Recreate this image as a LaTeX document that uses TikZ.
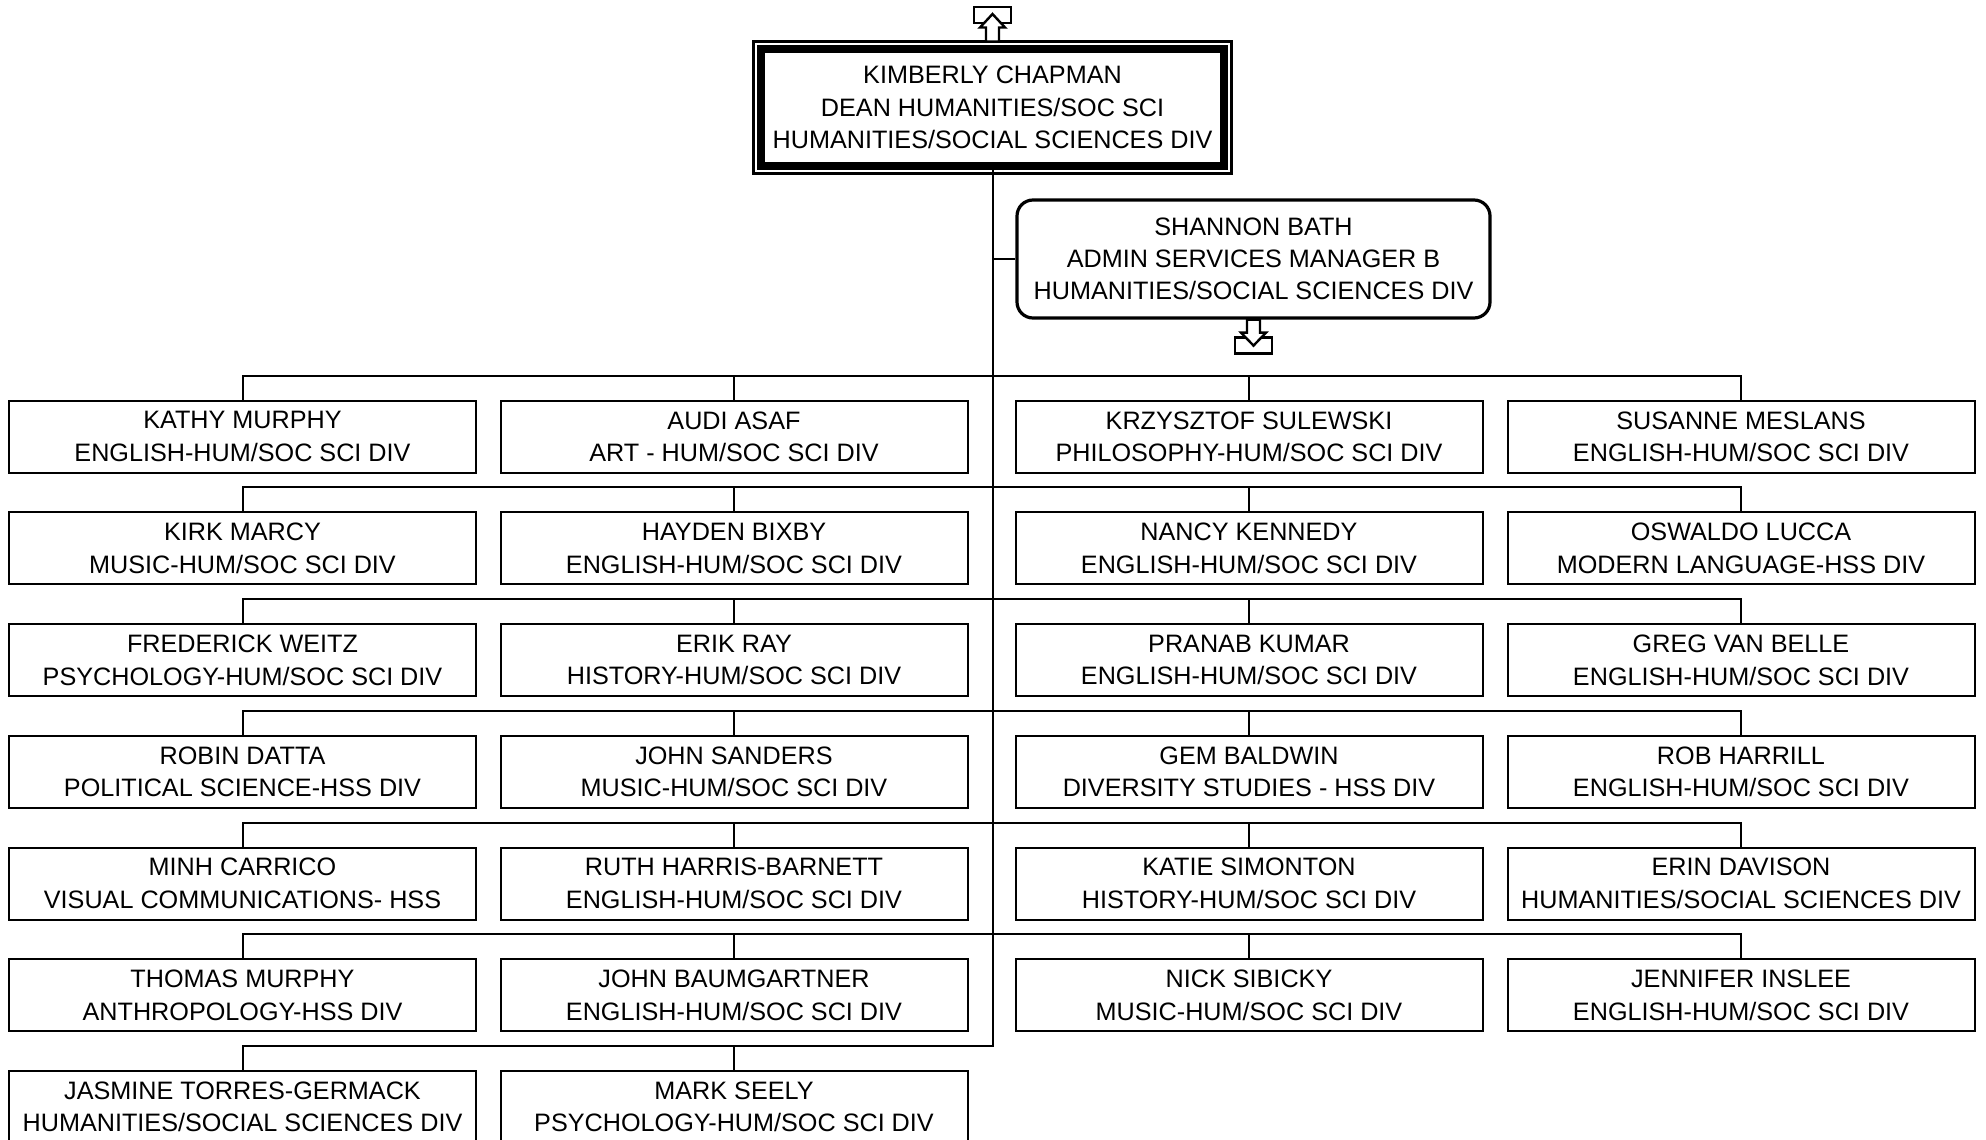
\documentclass[tikz,border=0pt]{standalone}
\usepackage{fontspec}
\setmainfont{Liberation Sans}
\usetikzlibrary{positioning}

\begin{document}
\begin{tikzpicture}[
    x=0.5pt, y=-0.5pt,
    staff/.style={
      rectangle, draw, line width=1pt,
      minimum width=233.5pt, minimum height=36pt,
      font=\fontsize{12.6}{16.3}\selectfont, align=center, inner sep=0pt
    },
    head/.style={
      rectangle, draw, line width=4pt, outer sep=0pt,
      minimum width=231.5pt, minimum height=58.5pt,
      font=\fontsize{12.6}{16.2}\selectfont, align=center, inner sep=0pt
    },
    assist/.style={
      rectangle, draw, rounded corners=8pt, line width=1.6pt,
      minimum width=236.5pt, minimum height=59pt,
      font=\fontsize{12.6}{16}\selectfont, align=center, inner sep=0pt
    },
    link/.style={line width=1pt},
    marker/.style={draw, line width=1.2pt, fill=white},
  ]
  \useasboundingbox (0,0) rectangle (1986,1140);

  \node[head] (dean) at (992.5,107.5) {
    KIMBERLY CHAPMAN\\
    DEAN HUMANITIES/SOC SCI\\
    HUMANITIES/SOCIAL SCIENCES DIV
  };
  \draw[line width=1.5pt] ([shift={(-3.75pt,3.75pt)}]dean.north west)
    rectangle ([shift={(3.75pt,-3.75pt)}]dean.south east);

  \node[assist] (shannon) at (1253.5,259) {
    SHANNON BATH\\
    ADMIN SERVICES MANAGER B\\
    HUMANITIES/SOCIAL SCIENCES DIV
  };

  % first row
  \node[staff] (kathy) at (242.5,436.7) {KATHY MURPHY\\ENGLISH-HUM/SOC SCI DIV};
  \node[staff, right=11.25pt of kathy] (audi) {AUDI ASAF\\ART - HUM/SOC SCI DIV};
  \node[staff, right=23pt of audi] (krzysztof) {KRZYSZTOF SULEWSKI\\PHILOSOPHY-HUM/SOC SCI DIV};
  \node[staff, right=11.5pt of krzysztof] (susanne) {SUSANNE MESLANS\\ENGLISH-HUM/SOC SCI DIV};

  \node[staff, below=18.85pt of kathy] (kirk) {KIRK MARCY\\MUSIC-HUM/SOC SCI DIV};
  \node[staff, below=18.85pt of audi] (hayden) {HAYDEN BIXBY\\ENGLISH-HUM/SOC SCI DIV};
  \node[staff, below=18.85pt of krzysztof] (nancy) {NANCY KENNEDY\\ENGLISH-HUM/SOC SCI DIV};
  \node[staff, below=18.85pt of susanne] (oswaldo) {OSWALDO LUCCA\\MODERN LANGUAGE-HSS DIV};

  \node[staff, below=18.85pt of kirk] (frederick) {FREDERICK WEITZ\\PSYCHOLOGY-HUM/SOC SCI DIV};
  \node[staff, below=18.85pt of hayden] (erik) {ERIK RAY\\HISTORY-HUM/SOC SCI DIV};
  \node[staff, below=18.85pt of nancy] (pranab) {PRANAB KUMAR\\ENGLISH-HUM/SOC SCI DIV};
  \node[staff, below=18.85pt of oswaldo] (greg) {GREG VAN BELLE\\ENGLISH-HUM/SOC SCI DIV};

  \node[staff, below=18.85pt of frederick] (robin) {ROBIN DATTA\\POLITICAL SCIENCE-HSS DIV};
  \node[staff, below=18.85pt of erik] (johns) {JOHN SANDERS\\MUSIC-HUM/SOC SCI DIV};
  \node[staff, below=18.85pt of pranab] (gem) {GEM BALDWIN\\DIVERSITY STUDIES - HSS DIV};
  \node[staff, below=18.85pt of greg] (rob) {ROB HARRILL\\ENGLISH-HUM/SOC SCI DIV};

  \node[staff, below=18.85pt of robin] (minh) {MINH CARRICO\\VISUAL COMMUNICATIONS- HSS};
  \node[staff, below=18.85pt of johns] (ruth) {RUTH HARRIS-BARNETT\\ENGLISH-HUM/SOC SCI DIV};
  \node[staff, below=18.85pt of gem] (katie) {KATIE SIMONTON\\HISTORY-HUM/SOC SCI DIV};
  \node[staff, below=18.85pt of rob] (erin) {ERIN DAVISON\\HUMANITIES/SOCIAL SCIENCES DIV};

  \node[staff, below=18.85pt of minh] (thomas) {THOMAS MURPHY\\ANTHROPOLOGY-HSS DIV};
  \node[staff, below=18.85pt of ruth] (johnb) {JOHN BAUMGARTNER\\ENGLISH-HUM/SOC SCI DIV};
  \node[staff, below=18.85pt of katie] (nick) {NICK SIBICKY\\MUSIC-HUM/SOC SCI DIV};
  \node[staff, below=18.85pt of erin] (jennifer) {JENNIFER INSLEE\\ENGLISH-HUM/SOC SCI DIV};

  \node[staff, below=18.85pt of thomas] (jasmine) {JASMINE TORRES-GERMACK\\HUMANITIES/SOCIAL SCIENCES DIV};
  \node[staff, below=18.85pt of johnb] (mark) {MARK SEELY\\PSYCHOLOGY-HUM/SOC SCI DIV};

  % trunk and buses
  \draw[link] (jasmine.north) -- ++(0,12pt) -| (dean.south) (mark.north) -- ++(0,12pt);
  \draw[link] (dean.south |- shannon.west) -- (shannon.west);
  \draw[link] (kathy.north) -- ++(0,12pt) -| (susanne.north) (audi.north) -- ++(0,12pt) (krzysztof.north) -- ++(0,12pt);
  \draw[link] (kirk.north) -- ++(0,12pt) -| (oswaldo.north) (hayden.north) -- ++(0,12pt) (nancy.north) -- ++(0,12pt);
  \draw[link] (frederick.north) -- ++(0,12pt) -| (greg.north) (erik.north) -- ++(0,12pt) (pranab.north) -- ++(0,12pt);
  \draw[link] (robin.north) -- ++(0,12pt) -| (rob.north) (johns.north) -- ++(0,12pt) (gem.north) -- ++(0,12pt);
  \draw[link] (minh.north) -- ++(0,12pt) -| (erin.north) (ruth.north) -- ++(0,12pt) (katie.north) -- ++(0,12pt);
  \draw[link] (thomas.north) -- ++(0,12pt) -| (jennifer.north) (johnb.north) -- ++(0,12pt) (nick.north) -- ++(0,12pt);

  % off-page markers
  \begin{scope}[shift={(dean.north)}]
    \draw[line width=1.2pt] (-9.25pt,13pt) rectangle (9.25pt,21pt);
    \draw[marker] (0pt,17.5pt) -- (6.25pt,10.75pt) -- (3.25pt,10.75pt) -- (3.25pt,3.75pt)
      -- (-3.25pt,3.75pt) -- (-3.25pt,10.75pt) -- (-6.25pt,10.75pt) -- cycle;
  \end{scope}
  \begin{scope}[shift={(shannon.south)}]
    \draw[line width=1.2pt] (-9.25pt,-9pt) rectangle (9.25pt,-17pt);
    \draw[marker] (0pt,-13pt) -- (6.25pt,-6.5pt) -- (3.25pt,-6.5pt) -- (3.25pt,0pt)
      -- (-3.25pt,0pt) -- (-3.25pt,-6.5pt) -- (-6.25pt,-6.5pt) -- cycle;
  \end{scope}
\end{tikzpicture}
\end{document}
